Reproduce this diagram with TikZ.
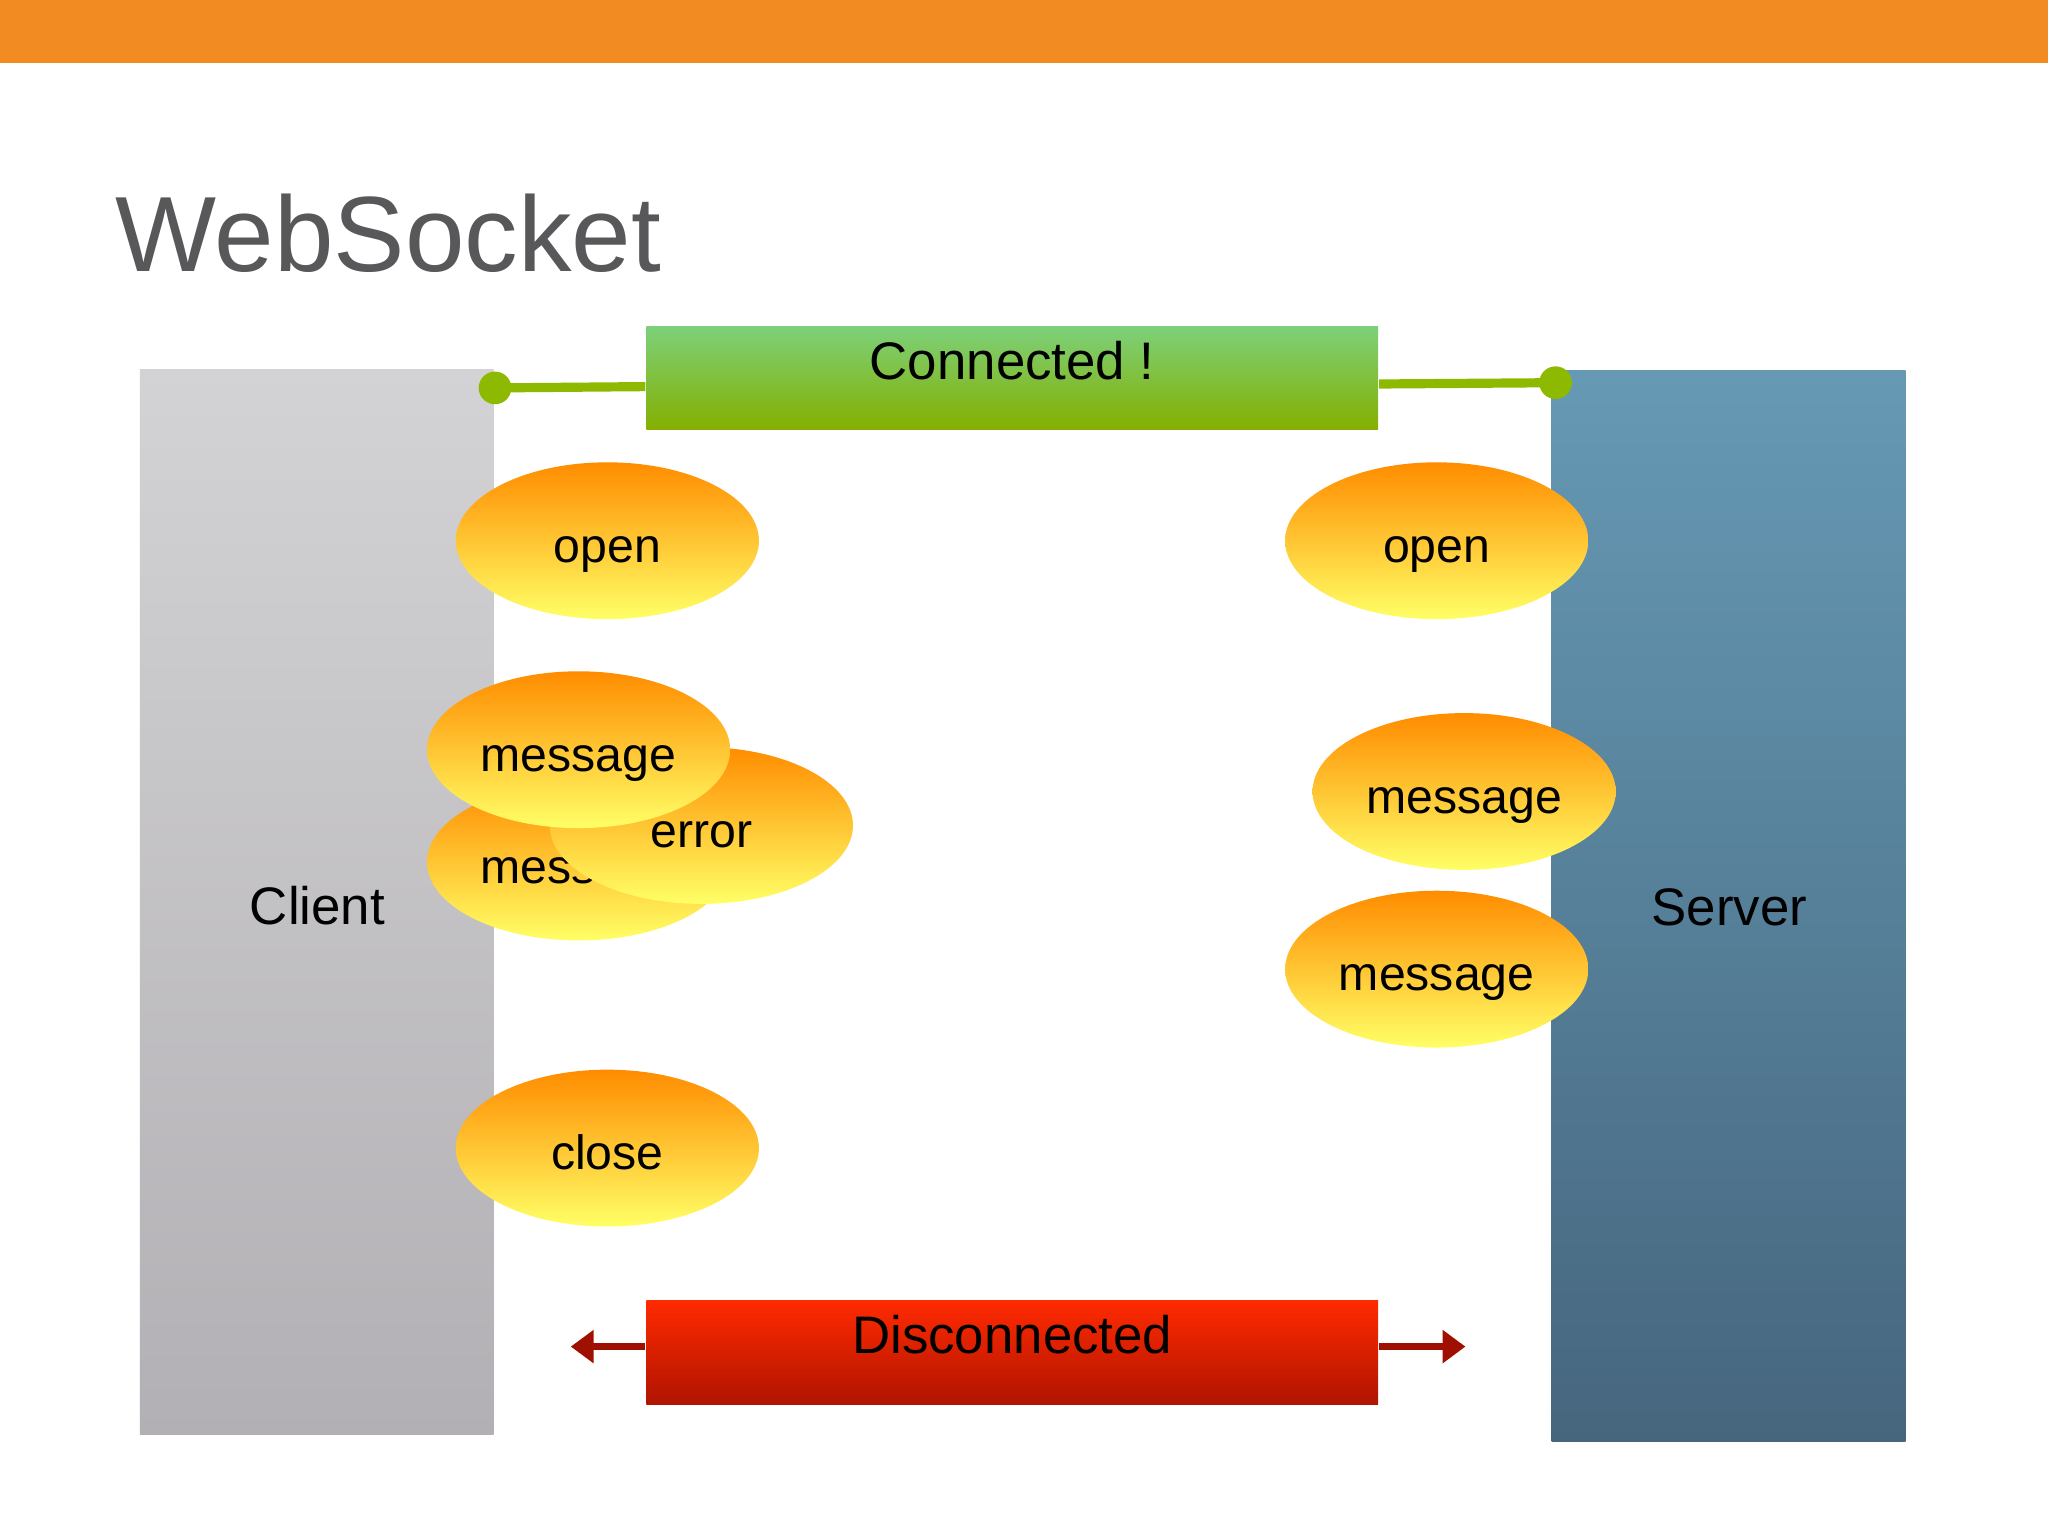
\documentclass[tikz,border=0pt]{standalone}
\usepackage{fontspec}
\setmainfont{Liberation Sans}
\usetikzlibrary{shapes.geometric,arrows.meta}
\definecolor{topbar}{HTML}{F28C22}
\definecolor{titlegray}{HTML}{58585A}
\definecolor{linkgreen}{HTML}{8DB900}
\definecolor{linkred}{HTML}{A01000}
\tikzset{
    event/.style={
        ellipse,
        top color=orange!90!yellow,
        bottom color=yellow!60!white,
        minimum width=2.32cm,
        minimum height=1.2cm,
        inner sep=0pt,
        text height=1.9ex,
        text depth=0.1ex,
        font=\fontsize{10.5pt}{12pt}\selectfont
    },
    side/.style={
        rectangle,
        inner sep=0pt,
        font=\fontsize{11.5pt}{14pt}\selectfont
    },
    state/.style={
        rectangle,
        inner sep=0pt,
        minimum width=5.6cm,
        minimum height=0.79cm,
        font=\fontsize{11.5pt}{14pt}\selectfont
    },
    dot/.style={
        circle,
        fill=linkgreen,
        minimum size=0.25cm,
        inner sep=0pt
    },
}
\begin{document}
\begin{tikzpicture}[x=0.01cm,y=-0.01cm]
    \useasboundingbox (0,0) rectangle (1568,1176);
    % header
    \fill[topbar] (0,0) rectangle (1568,48);
    \node[anchor=base west, text=titlegray, font=\fontsize{23.3pt}{27pt}\selectfont, inner sep=0pt] (title) at (88,208) {WebSocket};

    % client and server columns
    \shade[top color={rgb,255:red,211;green,210;blue,212}, bottom color={rgb,255:red,178;green,176;blue,180}] (107,283) rectangle (378,1098);
    \node[side] (client) at (243,693) {Client};
    \shade[top color={rgb,255:red,102;green,153;blue,180}, bottom color={rgb,255:red,70;green,102;blue,126}] (1188,284) rectangle (1459,1104);
    \node[side] (server) at (1324,695) {Server};

    % states
    \node[state, top color={rgb,255:red,125;green,208;blue,122}, bottom color={rgb,255:red,132;green,176;blue,0}] (connected) at (775,289.5) {};
    \node[side] (connectedlabel) at (775,276) {Connected !};
    \node[state, top color={rgb,255:red,255;green,42;blue,0}, bottom color={rgb,255:red,176;green,20;blue,0}] (disconnected) at (775,1035.5) {};
    \node[side] (disconnectedlabel) at (775,1022) {Disconnected};

    % links
    \node[dot] (clientdot) at (379,297) {};
    \node[dot] (serverdot) at (1191,293) {};
    \draw[linkgreen, line width=2pt] (clientdot.center) -- (connected.west |- 0,296);
    \draw[linkgreen, line width=2pt] (connected.east |- 0,294) -- (serverdot.center);
    \coordinate (leftend) at (437,1031);
    \coordinate (rightend) at (1122,1031);
    \draw[-{Triangle[length=5pt,width=7pt]}, linkred, line width=1.6pt] (disconnected.west |- leftend) -- (leftend);
    \draw[-{Triangle[length=5pt,width=7pt]}, linkred, line width=1.6pt] (disconnected.east |- rightend) -- (rightend);

    % events
    \node[event] (copen) at (465,414) {open};
    \node[event] (sopen) at (1100,414) {open};
    \node[event] (cmsgb) at (443,660) {message};
    \node[event] (cerror) at (537,632) {error};
    \node[event] (cmsga) at (443,574) {message};
    \node[event] (smsga) at (1121,606) {message};
    \node[event] (smsgb) at (1100,742) {message};
    \node[event] (cclose) at (465,879) {close};
\end{tikzpicture}
\end{document}
